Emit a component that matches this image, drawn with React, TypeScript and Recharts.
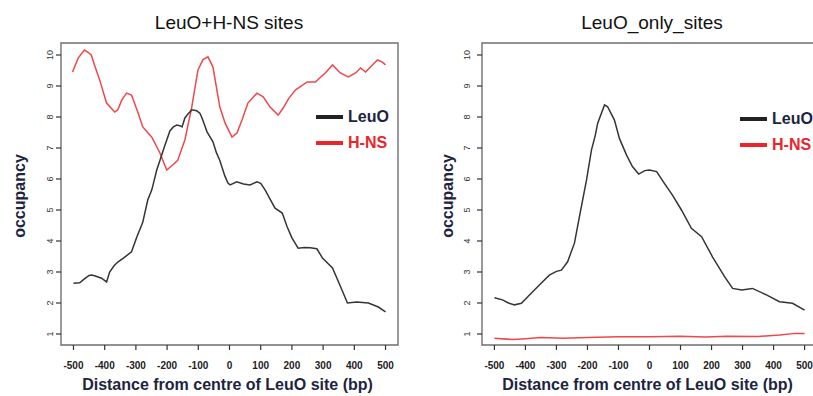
import React from 'react';
import { LineChart, Line, XAxis, YAxis, ReferenceArea } from 'recharts';

// ---------- data ----------
const xTicks = [-500, -400, -300, -200, -100, 0, 100, 200, 300, 400, 500];
const yTicks = [1, 2, 3, 4, 5, 6, 7, 8, 9, 10];
const panelTitles = ['LeuO+H-NS sites', 'LeuO_only_sites'];
const seriesNames = ['LeuO', 'H-NS'];
const xLabel = 'Distance from centre of LeuO site (bp)';
const yLabel = 'occupancy';

// Left panel (LeuO+H-NS sites)
const leftLeuOPos = [-500, -480, -465, -450, -442, -430, -410, -394, -384, -370, -358, -340, -314, -297, -278, -262, -249, -233, -223, -210, -191, -180, -169, -159, -152, -143, -133, -121, -105, -95, -88, -72, -53, -42, -31, -15, -5, 2, 23, 45, 66, 88, 100, 114, 130, 146, 169, 185, 200, 220, 240, 259, 280, 298, 330, 355, 378, 408, 445, 477, 500];
const leftLeuOVal = [2.64, 2.65, 2.78, 2.89, 2.9, 2.87, 2.8, 2.68, 3.0, 3.2, 3.32, 3.45, 3.65, 4.13, 4.6, 5.32, 5.65, 6.3, 6.6, 7.0, 7.55, 7.68, 7.74, 7.72, 7.68, 7.97, 8.1, 8.23, 8.2, 8.12, 7.97, 7.52, 7.2, 6.85, 6.6, 6.1, 5.87, 5.81, 5.91, 5.84, 5.81, 5.91, 5.86, 5.65, 5.35, 5.06, 4.9, 4.45, 4.1, 3.77, 3.79, 3.78, 3.75, 3.45, 3.13, 2.55, 2.0, 2.03, 2.0, 1.87, 1.71];
const leftHnsPos = [-503, -485, -465, -452, -443, -430, -416, -394, -368, -358, -345, -330, -314, -294, -278, -249, -223, -201, -182, -166, -143, -121, -101, -85, -69, -53, -31, -14, 8, 24, 40, 59, 88, 108, 130, 156, 172, 190, 211, 249, 275, 307, 330, 355, 381, 404, 420, 436, 458, 474, 490, 500];
const leftHnsVal = [9.45, 9.9, 10.16, 10.08, 10.0, 9.6, 9.19, 8.45, 8.16, 8.23, 8.55, 8.77, 8.71, 8.16, 7.68, 7.35, 6.84, 6.29, 6.45, 6.6, 7.26, 8.32, 9.52, 9.85, 9.94, 9.61, 8.32, 7.8, 7.35, 7.48, 7.9, 8.45, 8.77, 8.65, 8.32, 8.06, 8.29, 8.6, 8.87, 9.13, 9.13, 9.42, 9.68, 9.42, 9.29, 9.42, 9.58, 9.45, 9.68, 9.84, 9.77, 9.68];

// Right panel (LeuO_only_sites)
const rightLeuOPos = [-500, -474, -455, -435, -413, -387, -355, -323, -300, -284, -264, -242, -226, -203, -187, -175, -167, -145, -135, -113, -97, -74, -55, -35, -15, 0, 23, 48, 74, 103, 135, 168, 203, 242, 268, 297, 332, 377, 419, 461, 500];
const rightLeuOVal = [2.17, 2.1, 2.0, 1.94, 1.99, 2.26, 2.58, 2.9, 3.02, 3.06, 3.33, 3.93, 4.78, 5.97, 6.94, 7.4, 7.8, 8.39, 8.33, 7.9, 7.31, 6.77, 6.4, 6.16, 6.27, 6.29, 6.24, 5.86, 5.48, 5.0, 4.41, 4.14, 3.49, 2.85, 2.47, 2.42, 2.47, 2.26, 2.04, 1.99, 1.77];
const rightHnsPos = [-500, -440, -400, -350, -280, -200, -100, 0, 100, 180, 250, 350, 420, 470, 500];
const rightHnsVal = [0.86, 0.82, 0.85, 0.89, 0.86, 0.89, 0.91, 0.91, 0.93, 0.9, 0.93, 0.92, 0.97, 1.02, 1.02];

const toRows = (pos: number[], val: number[]) => pos.map((x, i) => ({ x, y: val[i] }));

// ---------- styling ----------
const FONT = '"Liberation Sans", Arial, sans-serif';
const LEUO_COLOR = '#353535';
const HNS_COLOR = '#f0474a';
const NAVY = '#1d2440';
const X_DOMAIN: [number, number] = [-540, 540];
const Y_DOMAIN: [number, number] = [0.645, 10.387];

type PanelProps = {
  left: number;
  width: number;
  yAxisWidth: number;
  rightMargin: number;
  title: string;
  titleX: number;
  leuo: { x: number; y: number }[];
  hns: { x: number; y: number }[];
  yLabelX: number;
  yTickGap: number;
  legendLeft: number;
  legendTop: number;
};

const XTick = (props: any) => {
  const { x, payload, axisY } = props;
  return (
    <text x={x} y={axisY + 24} textAnchor="middle" fontFamily={FONT} fontSize={10} fontWeight="bold" fill="#222">
      {payload.value}
    </text>
  );
};

const YTick = (props: any) => {
  const { y, payload, baseX } = props;
  return (
    <text
      x={baseX}
      y={y}
      textAnchor="middle"
      transform={`rotate(-90 ${baseX} ${y})`}
      fontFamily={FONT}
      fontSize={9}
      fill="#333"
    >
      {payload.value}
    </text>
  );
};

const LegendBox = ({ left, top }: { left: number; top: number }) => (
  <div
    style={{
      position: 'absolute',
      left,
      top,
      fontFamily: FONT,
      fontWeight: 'bold',
      fontSize: 16,
      lineHeight: '26px',
    }}
  >
    <div style={{ display: 'flex', alignItems: 'center', color: NAVY }}>
      <span style={{ display: 'inline-block', width: 27, height: 4, background: '#222', marginRight: 5 }} />
      {seriesNames[0]}
    </div>
    <div style={{ display: 'flex', alignItems: 'center', color: '#e8262c' }}>
      <span style={{ display: 'inline-block', width: 27, height: 4, background: '#e8262c', marginRight: 5 }} />
      {seriesNames[1]}
    </div>
  </div>
);

const Panel = (p: PanelProps) => {
  const plotTop = 43;
  const plotBottom = 345;
  return (
    <div style={{ position: 'absolute', left: p.left, top: 0, width: p.width, height: 396 }}>
      <LineChart width={p.width} height={396} margin={{ top: plotTop, right: p.rightMargin, bottom: 0, left: 0 }}>
        <XAxis
          type="number"
          dataKey="x"
          domain={X_DOMAIN}
          ticks={xTicks}
          allowDataOverflow
          height={51}
          axisLine={false}
          tickSize={5}
          tickLine={{ stroke: '#333', strokeWidth: 1.2 }}
          tick={<XTick axisY={plotBottom} />}
          interval={0}
          label={{
            content: () => (
              <text
                x={p.yAxisWidth + (p.width - p.yAxisWidth - p.rightMargin) / 2 - 2}
                y={390}
                textAnchor="middle"
                fontFamily={FONT}
                fontSize={16}
                fontWeight="bold"
                fill={NAVY}
              >
                {xLabel}
              </text>
            ),
          }}
        />
        <YAxis
          type="number"
          dataKey="y"
          domain={Y_DOMAIN}
          ticks={yTicks}
          allowDataOverflow
          width={p.yAxisWidth}
          axisLine={false}
          tickSize={5}
          tickLine={{ stroke: '#333', strokeWidth: 1.2 }}
          tick={<YTick baseX={p.yAxisWidth - p.yTickGap} />}
          interval={0}
          label={{
            content: () => (
              <text
                x={p.yLabelX}
                y={196}
                textAnchor="middle"
                transform={`rotate(-90 ${p.yLabelX} 196)`}
                fontFamily={FONT}
                fontSize={16}
                fontWeight="bold"
                fill={NAVY}
              >
                {yLabel}
              </text>
            ),
          }}
        />
        <ReferenceArea
          x1={X_DOMAIN[0]}
          x2={X_DOMAIN[1]}
          y1={Y_DOMAIN[0]}
          y2={Y_DOMAIN[1]}
          fill="none"
          stroke="#6f6f6f"
          strokeWidth={1.4}
          ifOverflow="visible"
        />
        <Line
          data={p.hns}
          dataKey="y"
          name={seriesNames[1]}
          type="linear"
          stroke={HNS_COLOR}
          strokeWidth={1.5}
          dot={false}
          isAnimationActive={false}
        />
        <Line
          data={p.leuo}
          dataKey="y"
          name={seriesNames[0]}
          type="linear"
          stroke={LEUO_COLOR}
          strokeWidth={1.5}
          dot={false}
          isAnimationActive={false}
        />
      </LineChart>
      <LegendBox left={p.legendLeft} top={p.legendTop} />
      <div
        style={{
          position: 'absolute',
          left: p.titleX - 100,
          width: 200,
          top: 12,
          textAlign: 'center',
          fontFamily: FONT,
          fontSize: 19,
          lineHeight: '22px',
          color: '#111',
        }}
      >
        {p.title}
      </div>
    </div>
  );
};

export default function App() {
  return (
    <div style={{ position: 'absolute', left: 0, top: 0, width: 813, height: 396, overflow: 'hidden', background: '#fff' }}>
      <Panel
        left={0}
        width={410}
        yAxisWidth={61}
        rightMargin={12}
        title={panelTitles[0]}
        titleX={229}
        leuo={toRows(leftLeuOPos, leftLeuOVal)}
        hns={toRows(leftHnsPos, leftHnsVal)}
        yLabelX={25}
        yTickGap={8}
        legendLeft={316}
        legendTop={104}
      />
      <Panel
        left={410}
        width={420}
        yAxisWidth={72}
        rightMargin={13}
        title={panelTitles[1]}
        titleX={242}
        leuo={toRows(rightLeuOPos, rightLeuOVal)}
        hns={toRows(rightHnsPos, rightHnsVal)}
        yLabelX={43}
        yTickGap={12}
        legendLeft={330}
        legendTop={106}
      />
    </div>
  );
}
